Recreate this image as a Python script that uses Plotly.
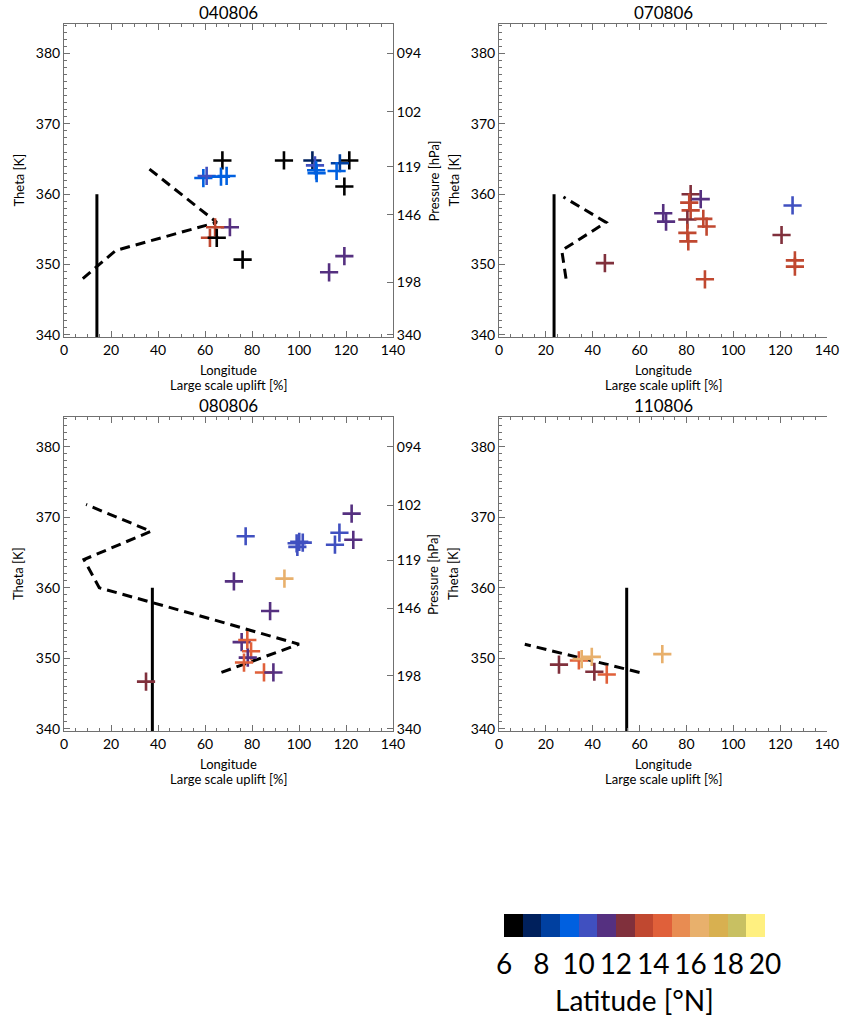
import plotly.graph_objects as go

# ---------------- data ----------------
titles = ["040806", "070806", "080806", "110806"]

# panel 1 (040806)
lon1 = [67.4, 93.6, 105.7, 106.8, 107.5, 107.3, 121.4, 117.4, 116.0, 119.3, 59.3, 60.7, 66.8, 69.2,
        70.6, 64.3, 62.1, 65.0, 76.0, 119.3, 112.8]
theta1 = [364.8, 364.8, 364.8, 364.1, 363.0, 363.4, 364.8, 364.4, 363.3, 361.1, 362.3, 362.6, 362.5, 362.6,
          355.3, 355.3, 353.8, 353.8, 350.7, 351.2, 348.9]
lat1 = [6.5, 6.5, 7.5, 10.5, 9.5, 9.5, 6.5, 8.5, 9.5, 6.5, 9.5, 10.5, 9.5, 9.5,
        11.2, 13.5, 13.5, 6.5, 6.5, 11.5, 11.5]

# panel 2 (070806)
lon2 = [45.2, 70.1, 71.3, 81.8, 81.2, 81.8, 80.4, 80.4, 80.8, 86.1, 87.2, 88.6, 87.9, 125.3, 120.6, 126.3, 126.3]
theta2 = [350.2, 357.3, 356.1, 360.0, 358.8, 357.7, 356.4, 354.5, 353.3, 359.3, 356.5, 355.4, 347.9, 358.4,
          354.2, 350.6, 349.7]
lat2 = [12.5, 11.5, 11.5, 12.5, 13.5, 13.5, 12.5, 13.5, 13.5, 11.5, 13.5, 13.5, 13.5, 10.5, 12.5, 13.5, 13.5]

# panel 3 (080806)
lon3 = [77.3, 99.0, 100.1, 101.6, 99.3, 117.2, 115.3, 122.4, 123.1, 72.3, 93.8, 87.7, 75.6, 78.0, 79.6,
        78.2, 76.6, 85.1, 89.1, 34.9]
theta3 = [367.3, 366.3, 366.5, 366.4, 365.8, 367.8, 366.1, 370.5, 366.8, 360.9, 361.3, 356.7, 352.3, 352.6,
          351.0, 350.1, 349.4, 348.0, 348.0, 346.7]
lat3 = [10.5, 10.5, 10.5, 10.5, 10.5, 10.5, 10.5, 11.5, 11.5, 11.5, 16.5, 11.5, 11.5, 14.5, 14.5,
        11.5, 14.5, 14.5, 11.5, 12.5]

# panel 4 (110806)
lon4 = [25.6, 34.1, 35.3, 39.6, 40.7, 46.0, 69.7]
theta4 = [349.1, 349.7, 349.9, 350.2, 348.1, 347.7, 350.6]
lat4 = [12.5, 14.5, 16.5, 16.5, 12.5, 14.5, 16.5]

# large scale uplift profiles (dashed)
uplift1 = [8, 22, 65, 50, 35.5]
uplift_theta1 = [348, 352, 356, 360, 363.8]
uplift2 = [28.6, 26.8, 45.7, 27.5]
uplift_theta2 = [348, 352, 356, 359.6]
uplift3 = [67, 100, 58, 15, 8.5, 37, 9.4]
uplift_theta3 = [348, 352, 356, 360, 364, 368, 371.8]
uplift4 = [60, 11]
uplift_theta4 = [348, 352]

# vertical solid line (mean longitude)
vline_lon = [14, 23.5, 37.6, 54.5]
vline_theta = [339.7, 360]

# pressure axis
p_ticktext = ["094", "102", "119", "146", "198", "340"]
p_tickvals = [380, 371.7, 363.9, 357.1, 347.5, 340]

# colour table
lat_edges = list(range(6, 21))
lat_colors = ["#000000", "#00205c", "#0040a0", "#0060e0", "#4050c0", "#553080", "#80303c",
              "#c04830", "#e0603a", "#e88c52", "#e8b06c", "#d8b050", "#c8c062", "#fff080"]
cbar_ticks = list(range(6, 21, 2))

# ---------------- figure ----------------
W, H = 841, 1020
def fx(px): return px / W
def fy(py): return 1 - py / H

def col(l):
    i = int(l - 6)
    i = max(0, min(13, i))
    return lat_colors[i]

ax_line = "#707070"
FONT = "Lato"
yr = [339.7, 384.2]

panels = [
    dict(lon=lon1, th=theta1, lat=lat1, up=uplift1, upt=uplift_theta1, x0=64, x1=393, y0=24, y1=337, pres=True),
    dict(lon=lon2, th=theta2, lat=lat2, up=uplift2, upt=uplift_theta2, x0=499, x1=827, y0=24, y1=337, pres=False),
    dict(lon=lon3, th=theta3, lat=lat3, up=uplift3, upt=uplift_theta3, x0=64, x1=393, y0=417, y1=731, pres=True),
    dict(lon=lon4, th=theta4, lat=lat4, up=uplift4, upt=uplift_theta4, x0=499, x1=827, y0=417, y1=731, pres=False),
]

fig = go.Figure()
layout = dict(width=W, height=H, margin=dict(l=0, r=0, t=0, b=0, pad=0), paper_bgcolor="white",
              plot_bgcolor="white", showlegend=False, font=dict(family=FONT, color="black", size=14))
annotations = []
pres_axis_ids = [5, 6]
pi = 0
for k, p in enumerate(panels):
    n = k + 1
    xa = "x" if n == 1 else f"x{n}"
    ya = "y" if n == 1 else f"y{n}"
    # solid vertical line
    fig.add_trace(go.Scatter(x=[vline_lon[k], vline_lon[k]], y=vline_theta, mode="lines",
                             line=dict(color="black", width=3), xaxis=xa, yaxis=ya, hoverinfo="skip"))
    # dashed uplift profile
    fig.add_trace(go.Scatter(x=p["up"], y=p["upt"], mode="lines",
                             line=dict(color="black", width=3, dash="10px,6px"), xaxis=xa, yaxis=ya,
                             hoverinfo="skip"))
    # crosses
    fig.add_trace(go.Scatter(x=p["lon"], y=p["th"], mode="markers", xaxis=xa, yaxis=ya,
                             marker=dict(symbol="cross-thin", size=13,
                                         line=dict(width=2.6, color=[col(l) for l in p["lat"]]))))
    xkey = "xaxis" if n == 1 else f"xaxis{n}"
    ykey = "yaxis" if n == 1 else f"yaxis{n}"
    layout[xkey] = dict(domain=[fx(p["x0"]), fx(p["x1"])], anchor=ya, range=[0, 140], automargin=False,
                        tickvals=list(range(0, 141, 20)), ticks="inside", ticklen=6, tickcolor=ax_line,
                        showline=True, linecolor=ax_line, linewidth=1, mirror="ticks",
                        minor=dict(dtick=5, ticks="inside", ticklen=3, tickcolor=ax_line),
                        showgrid=False, zeroline=False, tickfont=dict(size=14, family=FONT))
    layout[ykey] = dict(domain=[fy(p["y1"]), fy(p["y0"])], anchor=xa, range=yr, automargin=False,
                        tickvals=list(range(340, 381, 10)), ticks="inside", ticklen=6, tickcolor=ax_line,
                        showline=True, linecolor=ax_line, linewidth=1, mirror=False,
                        minor=dict(dtick=1, ticks="inside", ticklen=3, tickcolor=ax_line),
                        showgrid=False, zeroline=False, tickfont=dict(size=14, family=FONT))
    cx = (p["x0"] + p["x1"]) / 2
    annotations.append(dict(x=fx(cx), y=fy(p["y0"] - 11), xref="paper", yref="paper", text=titles[k],
                            showarrow=False, font=dict(size=17, family=FONT), xanchor="center",
                            yanchor="middle"))
    annotations.append(dict(x=fx(cx), y=fy(p["y1"] + 33), xref="paper", yref="paper", text="Longitude",
                            showarrow=False, font=dict(size=13, family=FONT), xanchor="center",
                            yanchor="middle"))
    annotations.append(dict(x=fx(cx), y=fy(p["y1"] + 48), xref="paper", yref="paper",
                            text="Large scale uplift [%]", showarrow=False, font=dict(size=13, family=FONT),
                            xanchor="center", yanchor="middle"))
    cy = (p["y0"] + p["y1"]) / 2
    annotations.append(dict(x=fx(p["x0"] - 46), y=fy(cy), xref="paper", yref="paper", text="Theta [K]",
                            showarrow=False, textangle=-90, font=dict(size=13, family=FONT),
                            xanchor="center", yanchor="middle"))
    if p["pres"]:
        pid = pres_axis_ids[pi]
        pi += 1
        fig.add_trace(go.Scatter(x=[None], y=[None], mode="markers", xaxis=xa, yaxis=f"y{pid}",
                                 hoverinfo="skip", showlegend=False))
        layout[f"yaxis{pid}"] = dict(overlaying=ya, side="right", anchor=xa, range=yr, automargin=False,
                                     tickvals=p_tickvals, ticktext=p_ticktext, ticks="inside", ticklen=6,
                                     tickcolor=ax_line, showline=True, linecolor=ax_line, linewidth=1,
                                     showgrid=False, zeroline=False, tickfont=dict(size=14, family=FONT))
        annotations.append(dict(x=fx(p["x1"] + 40), y=fy(cy), xref="paper", yref="paper",
                                text="Pressure [hPa]", showarrow=False, textangle=-90,
                                font=dict(size=13, family=FONT), xanchor="center", yanchor="middle"))

# colour bar
centers = [(lat_edges[i] + lat_edges[i + 1]) / 2 for i in range(len(lat_colors))]
cs = []
nC = len(lat_colors)
for i, c in enumerate(lat_colors):
    cs.append([i / nC, c])
    cs.append([(i + 1) / nC, c])
fig.add_trace(go.Heatmap(x=centers, y=[0.5], z=[centers], colorscale=cs, zmin=6, zmax=20,
                         showscale=False, xaxis="x7", yaxis="y7", hoverinfo="skip"))
layout["xaxis7"] = dict(domain=[fx(504), fx(765)], anchor="y7", range=[6, 20], tickvals=cbar_ticks,
                        automargin=False,
                        ticks="outside", ticklen=2, tickcolor="rgba(0,0,0,0)", showline=False,
                        showgrid=False, zeroline=False, tickfont=dict(size=28, family=FONT))
layout["yaxis7"] = dict(domain=[fy(937), fy(914)], anchor="x7", range=[0, 1], visible=False,
                        automargin=False)
annotations.append(dict(x=fx(634), y=fy(1000), xref="paper", yref="paper", text="Latitude [°N]",
                        showarrow=False, font=dict(size=28, family=FONT), xanchor="center",
                        yanchor="middle"))

layout["annotations"] = annotations
fig.update_layout(**layout)
fig.write_html("out.html")
